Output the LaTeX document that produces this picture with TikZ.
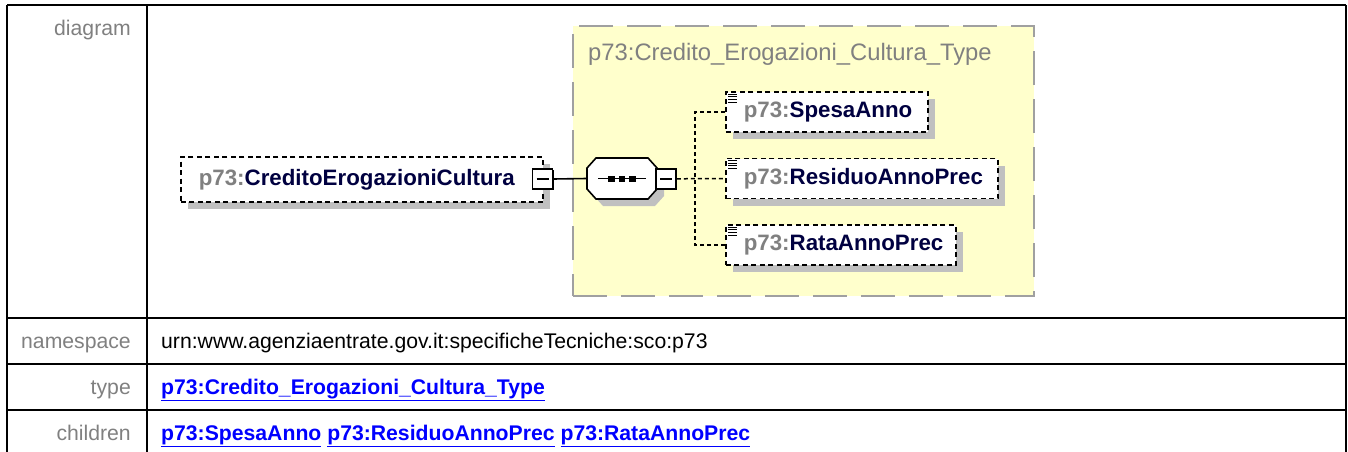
\documentclass[tikz,border=0pt]{standalone}
\usepackage{fontspec}
\setmainfont{Liberation Sans}
\usetikzlibrary{shadows}
\definecolor{ybg}{HTML}{FFFFCC}
\definecolor{ybd}{HTML}{A0A0A0}
\definecolor{shd}{HTML}{C0C0C0}
\definecolor{pfx}{HTML}{808080}
\definecolor{nmc}{HTML}{000040}
\definecolor{lnk}{HTML}{0000FF}
\definecolor{lblc}{HTML}{808080}
\begin{document}
\begin{tikzpicture}[x=1pt,y=-1pt,
  tline/.style={line width=2pt, black},
  lbl/.style={anchor=base east, text=lblc, inner sep=0, font=\fontsize{21.2}{25}\selectfont},
  val/.style={anchor=base west, inner sep=0, font=\fontsize{21.2}{25}\selectfont},
  lnkt/.style={anchor=base west, inner sep=0, text=lnk, font=\fontsize{21.2}{25}\selectfont\bfseries},
  ybox/.style={draw=ybd, fill=ybg, line width=2pt, dash pattern=on 34pt off 14pt, inner sep=0},
  ytitle/.style={anchor=west, inner sep=0, text=pfx, font=\fontsize{23.8}{28}\selectfont},
  elembox/.style={draw=black, fill=white, line width=1.6pt, dash pattern=on 5pt off 3.5pt,
    anchor=west, inner xsep=18pt, inner ysep=0pt, align=left,
    font=\fontsize{22.3}{26}\selectfont\bfseries, text=nmc,
    general shadow={fill=shd, draw=none, shadow xshift=7pt, shadow yshift=-7pt}},
  minusbox/.style={draw=black, fill=white, line width=1.8pt, minimum size=20pt, inner sep=0,
    general shadow={fill=black, draw=none, shadow xshift=1.4pt, shadow yshift=-1.4pt},
    path picture={\draw[line width=1.5pt] ([xshift=-6pt]path picture bounding box.center) -- ([xshift=6pt]path picture bounding box.center);}},
  conn/.style={line width=1.5pt, dash pattern=on 4pt off 3pt},
  solidconn/.style={line width=1.6pt},
  icon/.style={line width=1pt}
]
\useasboundingbox (0,0) rectangle (1348,452);
\fill[white] (0,0) rectangle (1348,452);

% table
\draw[tline] (7,5) -- (1346,5);
\draw[tline] (7,5) -- (7,452);
\draw[tline] (147,5) -- (147,452);
\draw[tline] (1346,5) -- (1346,452);
\draw[tline] (7,318) -- (1346,318);
\draw[tline] (7,364) -- (1346,364);
\draw[tline] (7,410) -- (1346,410);

\node[lbl] (ldiag) at (131,36) {diagram};
\node[lbl] (lns) at (131,348) {namespace};
\node[lbl] (ltype) at (131,394) {type};
\node[lbl] (lch) at (131,440) {children};
\node[val] (vns) at (161,348) {urn:www.agenziaentrate.gov.it:specificheTecniche:sco:p73};
\node[lnkt] (vtype) at (161,394) {\underline{p73:Credito\_Erogazioni\_Cultura\_Type}};
\node[lnkt] (vch) at (161,440) {\underline{p73:SpesaAnno} \underline{p73:ResiduoAnnoPrec} \underline{p73:RataAnnoPrec}};

% complex type box
\node[ybox, minimum width=461pt, minimum height=270pt] (ctype) at (803.5,161) {};
\node[ytitle] (ctitle) at (588,54) {p73:Credito\_Erogazioni\_Cultura\_Type};

% main element
\node[elembox, text width=326pt, minimum height=45pt] (main) at (180,179.5)
  {\textcolor{pfx}{p73:}CreditoErogazioniCultura};
\node[minusbox] (mminus) at (542.5,179) {};

% sequence compositor
\begin{scope}[shift={(7,7)}]
\fill[shd] (587,168) -- (596,158) -- (648,158) -- (657,168) -- (657,189) -- (648,199) -- (596,199) -- (587,189) -- cycle;
\end{scope}
\draw[fill=white, line width=1.6pt] (587,168) -- (596,158) -- (648,158) -- (657,168) -- (657,189) -- (648,199) -- (596,199) -- (587,189) -- cycle;
\node[minimum width=70pt, minimum height=41pt, inner sep=0] (seq) at (622,178.5) {};
\draw[line width=1.5pt] (598,178.5) -- (646,178.5);
\fill (608,175.5) rectangle +(6.5,6);
\fill (618.5,175.5) rectangle +(6.5,6);
\fill (629,175.5) rectangle +(6.5,6);
\node[minusbox] (sminus) at (666,179) {};

\draw[solidconn] (mminus.east) -- (seq.west);

% children
\node[elembox, text width=166pt, minimum height=40pt] (spesa) at (725,112)
  {\textcolor{pfx}{p73:}SpesaAnno};
\node[elembox, text width=236pt, minimum height=40pt] (residuo) at (725,178.5)
  {\textcolor{pfx}{p73:}ResiduoAnnoPrec};
\node[elembox, text width=194pt, minimum height=40pt] (rata) at (725,245)
  {\textcolor{pfx}{p73:}RataAnnoPrec};

\coordinate (vmid) at (695,178.5);
\draw[conn] (sminus.east) -- (vmid) -- (residuo.west);
\draw[conn] (spesa.west) -| (vmid);
\draw[conn] (rata.west) -| (vmid);

% simple-content icons
\foreach \n in {spesa,residuo,rata}{
  \foreach \i in {0,1,2,3}{
    \draw[icon] ([shift={(3,3+2.6*\i)}]\n.north west) -- +(9,0);
  }
}
\end{tikzpicture}
\end{document}
